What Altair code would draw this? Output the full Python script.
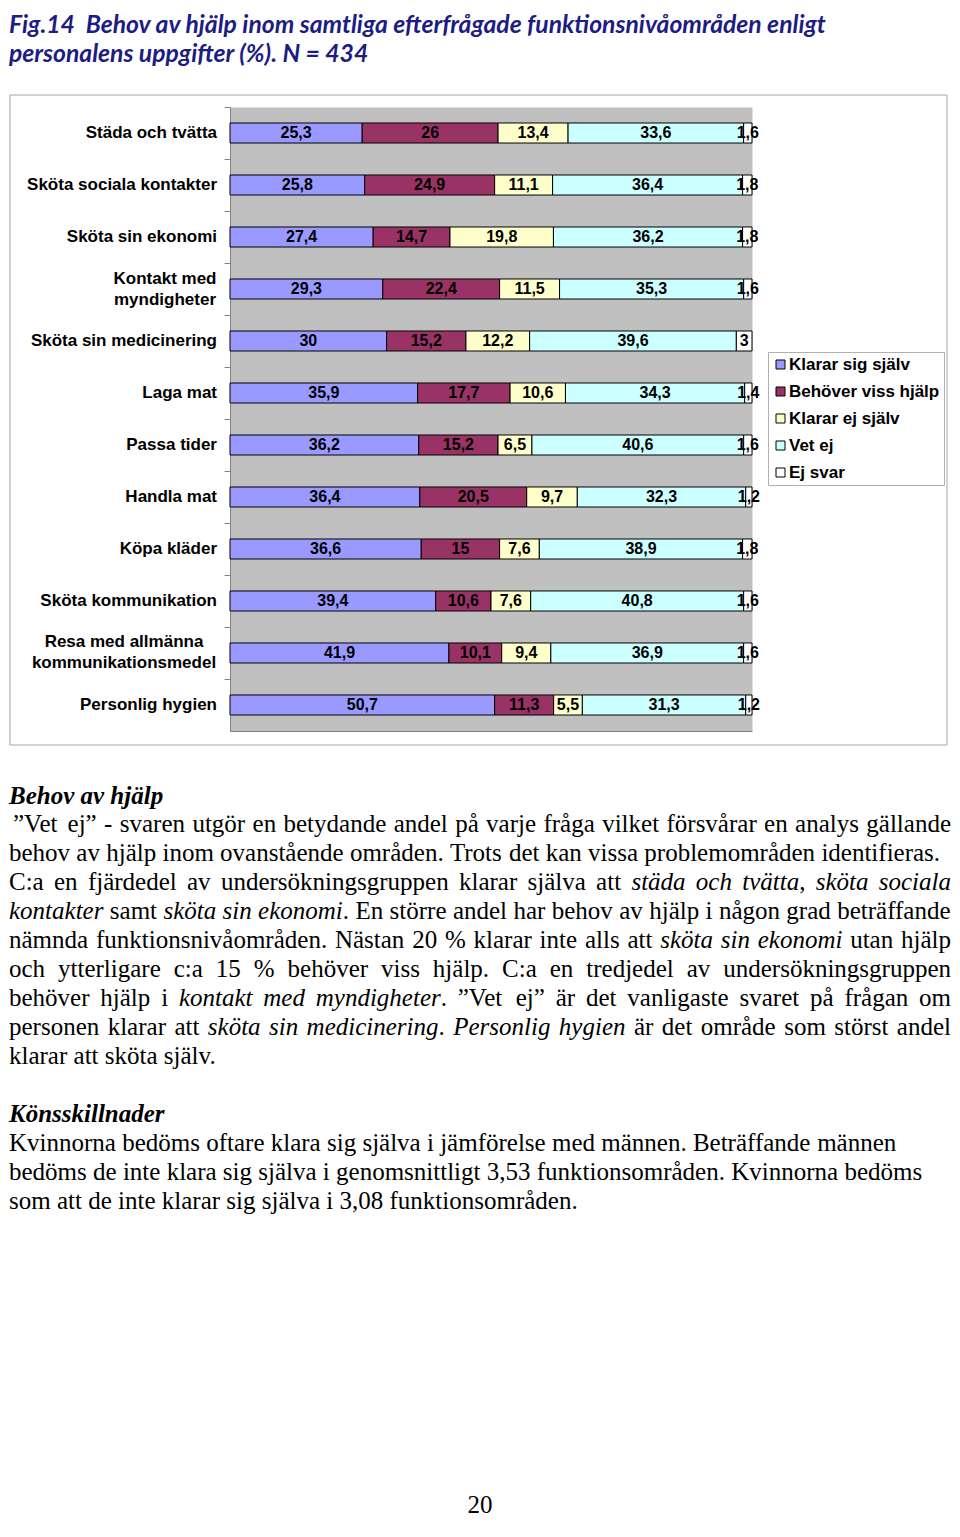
import altair as alt
import pandas as pd

# ---------------- data ----------------
categories = [
    "Städa och tvätta",
    "Sköta sociala kontakter",
    "Sköta sin ekonomi",
    "Kontakt med myndigheter",
    "Sköta sin medicinering",
    "Laga mat",
    "Passa tider",
    "Handla mat",
    "Köpa kläder",
    "Sköta kommunikation",
    "Resa med allmänna kommunikationsmedel",
    "Personlig hygien",
]
category_lines = {
    "Kontakt med myndigheter": "Kontakt med|myndigheter",
    "Resa med allmänna kommunikationsmedel": "Resa med allmänna|kommunikationsmedel",
}
series = ["Klarar sig själv", "Behöver viss hjälp", "Klarar ej själv", "Vet ej", "Ej svar"]
klarar_sig_sjalv = [25.3, 25.8, 27.4, 29.3, 30, 35.9, 36.2, 36.4, 36.6, 39.4, 41.9, 50.7]
behover_viss_hjalp = [26, 24.9, 14.7, 22.4, 15.2, 17.7, 15.2, 20.5, 15, 10.6, 10.1, 11.3]
klarar_ej_sjalv = [13.4, 11.1, 19.8, 11.5, 12.2, 10.6, 6.5, 9.7, 7.6, 7.6, 9.4, 5.5]
vet_ej = [33.6, 36.4, 36.2, 35.3, 39.6, 34.3, 40.6, 32.3, 38.9, 40.8, 36.9, 31.3]
ej_svar = [1.6, 1.8, 1.8, 1.6, 3, 1.4, 1.6, 1.2, 1.8, 1.6, 1.6, 1.2]
series_colors = ["#9999FF", "#993366", "#FFFFCC", "#CCFFFF", "#FFFFFF"]

title_lines = [
    "Fig.14\u00a0 Behov av hjälp inom samtliga efterfrågade funktionsnivåområden enligt",
    "personalens uppgifter (%). N = 434",
]
heading1 = "Behov av hjälp"
heading2 = "Könsskillnader"
page_number = "20"
# (runs, justified); style r = regular, i = italic
body_lines_1 = [
    ([("r", "”Vet ej” - svaren utgör en betydande andel på varje fråga vilket försvårar en analys gällande")], True),
    ([("r", "behov av hjälp inom ovanstående områden. Trots det kan vissa problemområden identifieras.")], False),
    ([("r", "C:a en fjärdedel av undersökningsgruppen klarar själva att "), ("i", "städa och tvätta"), ("r", ", "), ("i", "sköta sociala")], True),
    ([("i", "kontakter"), ("r", " samt "), ("i", "sköta sin ekonomi"), ("r", ". En större andel har behov av hjälp i någon grad beträffande")], True),
    ([("r", "nämnda funktionsnivåområden. Nästan 20 % klarar inte alls att "), ("i", "sköta sin ekonomi"), ("r", " utan hjälp")], True),
    ([("r", "och ytterligare c:a 15 % behöver viss hjälp. C:a en tredjedel av undersökningsgruppen")], True),
    ([("r", "behöver hjälp i "), ("i", "kontakt med myndigheter"), ("r", ". ”Vet ej” är det vanligaste svaret på frågan om")], True),
    ([("r", "personen klarar att "), ("i", "sköta sin medicinering"), ("r", ". "), ("i", "Personlig hygien"), ("r", " är det område som störst andel")], True),
    ([("r", "klarar att sköta själv.")], False),
]
body_lines_2 = [
    ([("r", "Kvinnorna bedöms oftare klara sig själva i jämförelse med männen. Beträffande männen")], False),
    ([("r", "bedöms de inte klara sig själva i genomsnittligt 3,53 funktionsområden. Kvinnorna bedöms")], False),
    ([("r", "som att de inte klarar sig själva i 3,08 funktionsområden.")], False),
]

# ---------------- layout helpers ----------------
OX, OY = 230, 107          # page position of plot origin
PW, PH = 522, 624          # plot size
SVG_W, SVG_H = 944, 1509
BODY_SIZE = 25
LEFT, RIGHT = 9, 951
LINE_H = 29

TIMES_R = {" ": 250, ".": 250, ",": 250, ":": 278, "-": 333, "%": 833, "”": 444,
           "A": 722, "B": 667, "C": 667, "D": 722, "E": 611, "F": 556, "G": 722, "H": 722,
           "I": 333, "J": 389, "K": 722, "L": 611, "M": 889, "N": 722, "O": 722, "P": 556,
           "R": 667, "S": 556, "T": 611, "U": 722, "V": 722, "W": 944,
           "a": 444, "b": 500, "c": 444, "d": 500, "e": 444, "f": 333, "g": 500, "h": 500,
           "i": 278, "j": 278, "k": 500, "l": 278, "m": 778, "n": 500, "o": 500, "p": 500,
           "q": 500, "r": 333, "s": 389, "t": 278, "u": 500, "v": 500, "w": 722, "x": 500,
           "y": 500, "z": 444, "å": 444, "ä": 444, "ö": 500}
TIMES_I = {" ": 250, ".": 250, ",": 250, "P": 611, "K": 667,
           "a": 500, "b": 500, "c": 444, "d": 500, "e": 444, "f": 278, "g": 500, "h": 500,
           "i": 278, "j": 278, "k": 444, "l": 278, "m": 722, "n": 500, "o": 500, "p": 500,
           "q": 500, "r": 389, "s": 389, "t": 278, "u": 500, "v": 444, "w": 667, "x": 444,
           "y": 444, "z": 389, "å": 500, "ä": 500, "ö": 500}


def wid(text, style):
    tab = TIMES_I if style == "i" else TIMES_R
    return sum(tab.get(c, 500) for c in text) * BODY_SIZE / 1000.0


def layout_line(runs, justified, x0, y, out):
    chars = [(c, s) for s, t in runs for c in t]
    pieces = []  # [text, style, gap_before]
    gap_pending = False
    for c, s in chars:
        if c == " ":
            gap_pending = True
            continue
        if pieces and not gap_pending and pieces[-1][1] == s:
            pieces[-1][0] += c
        else:
            pieces.append([c, s, gap_pending and len(pieces) > 0])
        gap_pending = False
    total = sum(wid(p[0], p[1]) for p in pieces)
    ngaps = sum(1 for p in pieces if p[2])
    gap = (RIGHT - x0 - total) / ngaps if (justified and ngaps) else 250 * BODY_SIZE / 1000.0
    x = x0
    for t, s, g in pieces:
        if g:
            x += gap
        out[s].append({"px": x - OX, "py": y - OY, "t": t})
        x += wid(t, s)


words = {"r": [], "i": []}
y = 824
for i, (runs, just) in enumerate(body_lines_1):
    layout_line(runs, just, LEFT + 4 if i == 0 else LEFT, y, words)
    y += LINE_H
y = 1143
for runs, just in body_lines_2:
    layout_line(runs, just, LEFT, y, words)
    y += LINE_H

# ---------------- chart ----------------
rows = []
for j, (s, vals) in enumerate(zip(series, [klarar_sig_sjalv, behover_viss_hjalp, klarar_ej_sjalv, vet_ej, ej_svar])):
    for c, v in zip(categories, vals):
        rows.append({"cat": c, "series": s, "value": v, "ord": j})
df = pd.DataFrame(rows)

ysc = alt.Scale(paddingInner=0.615, paddingOuter=0.3077)
yenc = alt.Y("cat:N", sort=categories, title=None, scale=ysc,
             axis=alt.Axis(labels=False, tickSize=6, tickOffset=-26, tickColor="#808080",
                           domainColor="#808080"))

bars = alt.Chart(df).mark_bar(stroke="black", strokeWidth=1).encode(
    y=yenc,
    x=alt.X("value:Q", stack="normalize", title=None,
            scale=alt.Scale(domain=[0, 1], nice=False),
            axis=alt.Axis(labels=False, ticks=False, grid=False, domainColor="#808080")),
    color=alt.Color("series:N", scale=alt.Scale(domain=series, range=series_colors),
                    legend=alt.Legend(orient="none", legendX=538, legendY=245, title=None,
                                      symbolType="square", symbolSize=81, symbolStrokeColor="black",
                                      symbolStrokeWidth=1, labelFont="Liberation Sans",
                                      labelFontSize=17, labelFontWeight="bold", labelColor="black",
                                      labelOffset=0, rowPadding=9, padding=4,
                                      strokeColor="#B0B0B0", fillColor="white", labelLimit=300)),
    order=alt.Order("ord:Q"),
)

value_labels = alt.Chart(df).transform_stack(
    stack="value", groupby=["cat"], as_=["v0", "v1"],
    sort=[alt.SortField("ord", order="ascending")], offset="normalize",
).transform_calculate(
    mid="(datum.v0 + datum.v1) / 2",
    lab="replace(toString(datum.value), '.', ',')",
).mark_text(font="Liberation Sans", fontSize=16, fontWeight="bold", color="black",
            baseline="middle").encode(
    y=alt.Y("cat:N", sort=categories),
    x=alt.X("mid:Q"),
    text="lab:N",
)

# category labels (drawn as text on the same band scale)
single = pd.DataFrame({"cat": [c for c in categories if c not in category_lines]})
multi = pd.DataFrame({"cat": list(category_lines.keys()),
                      "lbl": list(category_lines.values()),
                      "cx": [165 - OX, 124 - OX]})
cat_single = alt.Chart(single).mark_text(
    align="right", baseline="middle", font="Liberation Sans", fontSize=17, fontWeight="bold",
    color="black").encode(y=alt.Y("cat:N", sort=categories), x=alt.value(217 - OX), text="cat:N")
cat_multi = alt.Chart(multi).mark_text(
    align="center", baseline="middle", font="Liberation Sans", fontSize=17, fontWeight="bold",
    color="black", lineBreak="|", lineHeight=21, dy=-10.5).encode(
    y=alt.Y("cat:N", sort=categories), x=alt.X("cx:Q", scale=None), text="lbl:N")

bar_layer = alt.layer(bars, value_labels, cat_single, cat_multi)

frame = alt.Chart(alt.Data(values=[{"a": 1}])).mark_rect(
    fill="white", fillOpacity=0, stroke="#A6A6A6", strokeWidth=1).encode(
    x=alt.value(10 - OX), x2=alt.value(947 - OX), y=alt.value(95 - OY), y2=alt.value(745 - OY))


def text_layer(records, align="left", **kw):
    return alt.Chart(pd.DataFrame(records)).mark_text(align=align, baseline="middle", **kw).encode(
        x=alt.X("px:Q", scale=None, axis=None),
        y=alt.Y("py:Q", scale=None, axis=None),
        text="t:N",
    )


title_recs = [{"px": LEFT - OX, "py": 26 - OY, "t": title_lines[0]},
              {"px": LEFT - OX, "py": 55 - OY, "t": title_lines[1]}]
head_recs = [{"px": LEFT - OX, "py": 796 - OY, "t": heading1},
             {"px": LEFT - OX, "py": 1114 - OY, "t": heading2}]
page_recs = [{"px": 480 - OX, "py": 1505 - OY, "t": page_number}]

title_layer = text_layer(title_recs, font="Lato", fontSize=24.7, fontWeight="bold",
                         fontStyle="italic", color="#1c1c84")
head_layer = text_layer(head_recs, font="Liberation Serif", fontSize=BODY_SIZE,
                        fontWeight="bold", fontStyle="italic", color="black")
reg_layer = text_layer(words["r"], font="Liberation Serif", fontSize=BODY_SIZE, color="black")
ital_layer = text_layer(words["i"], font="Liberation Serif", fontSize=BODY_SIZE,
                        fontStyle="italic", color="black")
page_layer = text_layer(page_recs, align="center", font="Liberation Serif", fontSize=BODY_SIZE,
                        color="black")

chart = alt.layer(frame, bar_layer, title_layer, head_layer, reg_layer, ital_layer, page_layer).resolve_scale(
    x="independent", y="independent"
).properties(
    width=PW, height=PH,
    autosize=alt.AutoSizeParams(type="none"),
    padding={"left": OX - 8, "top": OY - 8, "right": SVG_W - (OX - 8) - PW,
             "bottom": SVG_H - (OY - 8) - PH},
    background="white",
).configure_view(fill="#C0C0C0", stroke="transparent")

chart.save("out.html", embed_options={"renderer": "svg", "actions": False})
